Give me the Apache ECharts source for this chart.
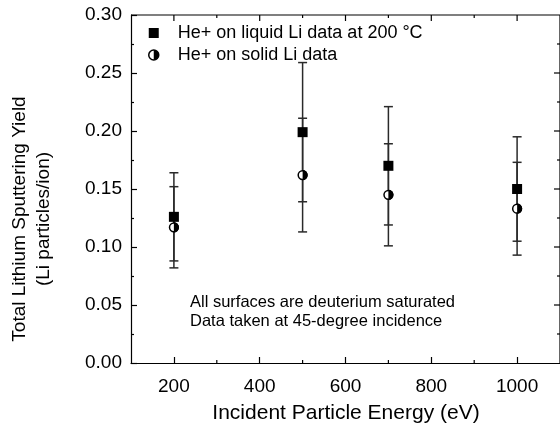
<!DOCTYPE html>
<html><head><meta charset="utf-8">
<script src="https://cdn.jsdelivr.net/npm/echarts@6/dist/echarts.min.js"></script>
<style>html,body{margin:0;padding:0;background:#fff}#c{width:560px;height:428px;background:#fff}</style>
</head><body><div id="c"></div>
<script>
const energies = [200, 500, 700, 1000];
const liquidYield = [0.126, 0.199, 0.170, 0.150];
const liquidErr = [0.038, 0.060, 0.051, 0.045];
const solidYield = [0.117, 0.162, 0.145, 0.133];
const solidErr = [0.035, 0.049, 0.044, 0.040];
const xMajorTicks = [200, 400, 600, 800, 1000];
const xMinorTicks = [300, 500, 700, 900];
const yMajorTicks = [0.05, 0.10, 0.15, 0.20, 0.25];
const yMinorTicks = [0.025, 0.075, 0.125, 0.175, 0.225, 0.275];
const liquidName = 'He+ on liquid Li data at 200 \u00B0C';
const solidName = 'He+ on solid Li data';
const xTitle = 'Incident Particle Energy (eV)';
const yTitle1 = 'Total Lithium Sputtering Yield';
const yTitle2 = '(Li particles/ion)';
const note1 = 'All surfaces are deuterium saturated';
const note2 = 'Data taken at 45-degree incidence';

const FONT = 'Liberation Sans, Arial, sans-serif';
const X_MIN = 100, X_MAX = 1100, Y_MIN = 0, Y_MAX = 0.30;

const liquidPts = energies.map((e, i) => [e, liquidYield[i]]);
const solidPts = energies.map((e, i) => [e, solidYield[i]]);
const liquidBars = energies.map((e, i) => [e, liquidYield[i] - liquidErr[i], liquidYield[i] + liquidErr[i]]);
const solidBars = energies.map((e, i) => [e, solidYield[i] - solidErr[i], solidYield[i] + solidErr[i]]);

function errRender(params, api) {
  const x = api.value(0);
  const top = api.coord([x, api.value(2)]);
  const bot = api.coord([x, api.value(1)]);
  const w = 4.5;
  const st = { stroke: '#2a2a2a', lineWidth: 1.5 };
  return { type: 'group', children: [
    { type: 'line', shape: { x1: top[0], y1: top[1], x2: bot[0], y2: bot[1] }, style: st },
    { type: 'line', shape: { x1: top[0] - w, y1: top[1], x2: top[0] + w, y2: top[1] }, style: st },
    { type: 'line', shape: { x1: bot[0] - w, y1: bot[1], x2: bot[0] + w, y2: bot[1] }, style: st }
  ]};
}
function solidRender(params, api) {
  const p = api.coord([api.value(0), api.value(1)]);
  return { type: 'group', children: [
    { type: 'circle', shape: { cx: p[0], cy: p[1], r: 4.4 }, style: { fill: '#fff', stroke: '#000', lineWidth: 1.5 } },
    { type: 'sector', shape: { cx: p[0], cy: p[1], r0: 0, r: 5.1, startAngle: -Math.PI / 2, endAngle: Math.PI / 2, clockwise: true }, style: { fill: '#000' } }
  ]};
}
// mirrored top / right axes and bottom minor ticks, placed through the chart's own scales
function frameRender(params, api) {
  const st = { stroke: '#000', lineWidth: 1.2 };
  const tl = api.coord([X_MIN, Y_MAX]), tr = api.coord([X_MAX, Y_MAX]), br = api.coord([X_MAX, Y_MIN]);
  const ch = [
    { type: 'line', shape: { x1: tl[0], y1: tl[1], x2: tr[0], y2: tr[1] }, style: st },
    { type: 'line', shape: { x1: tr[0], y1: tr[1], x2: br[0], y2: br[1] }, style: st }
  ];
  xMajorTicks.forEach(v => { const p = api.coord([v, Y_MAX]); ch.push({ type: 'line', shape: { x1: p[0], y1: p[1], x2: p[0], y2: p[1] + 6 }, style: st }); });
  xMinorTicks.forEach(v => {
    const p = api.coord([v, Y_MAX]); ch.push({ type: 'line', shape: { x1: p[0], y1: p[1], x2: p[0], y2: p[1] + 3 }, style: st });
    const q = api.coord([v, Y_MIN]); ch.push({ type: 'line', shape: { x1: q[0], y1: q[1], x2: q[0], y2: q[1] - 3 }, style: st });
  });
  yMajorTicks.forEach(v => { const p = api.coord([X_MAX, v]); ch.push({ type: 'line', shape: { x1: p[0], y1: p[1], x2: p[0] - 6, y2: p[1] }, style: st }); });
  yMinorTicks.forEach(v => { const p = api.coord([X_MAX, v]); ch.push({ type: 'line', shape: { x1: p[0], y1: p[1], x2: p[0] - 3, y2: p[1] }, style: st }); });
  return { type: 'group', children: ch };
}

const lineSt = { color: '#000', width: 1.2 };
const chart = echarts.init(document.getElementById('c'));
chart.setOption({
  animation: false,
  grid: { left: 131, top: 15, width: 431, height: 348 },
  xAxis: {
    type: 'value', position: 'bottom', min: X_MIN, max: X_MAX,
    axisLine: { show: true, lineStyle: lineSt, onZero: false },
    axisTick: { show: true, inside: true, length: 6, lineStyle: lineSt },
    axisLabel: { fontSize: 19, color: '#000', fontFamily: FONT, margin: 14, showMinLabel: false, showMaxLabel: false, formatter: v => String(v) },
    splitLine: { show: false }
  },
  yAxis: {
    type: 'value', position: 'left', min: Y_MIN, max: Y_MAX, interval: 0.05,
    axisLine: { show: true, lineStyle: lineSt, onZero: false },
    axisTick: { show: true, inside: true, length: 6, lineStyle: lineSt },
    minorTick: { show: true, splitNumber: 2, length: 3, lineStyle: lineSt },
    axisLabel: { fontSize: 19, color: '#000', fontFamily: FONT, margin: 9, formatter: v => v.toFixed(2) },
    splitLine: { show: false }, minorSplitLine: { show: false }
  },
  legend: {
    orient: 'vertical', left: 143, top: 19, itemWidth: 10, itemHeight: 10, itemGap: 4,
    data: [
      { name: liquidName, icon: 'rect', itemStyle: { color: '#000', opacity: 1 } },
      { name: solidName, icon: 'circle', itemStyle: { color: '#fff', borderColor: '#000', borderWidth: 1.5 } }
    ],
    textStyle: { fontSize: 18, color: '#000', fontFamily: FONT, padding: [0, 0, 0, 14] }
  },
  series: [
    { type: 'custom', name: 'frame', renderItem: frameRender, data: [[X_MIN, Y_MIN]] },
    { type: 'custom', name: 'liquidErr', renderItem: errRender, data: liquidBars },
    { type: 'custom', name: 'solidErr', renderItem: errRender, data: solidBars },
    { type: 'scatter', name: liquidName, data: liquidPts, symbol: 'rect', symbolSize: 10, itemStyle: { color: '#000', opacity: 1 } },
    { type: 'custom', name: solidName, renderItem: solidRender, data: solidPts, itemStyle: { color: '#fff', borderColor: '#000' } }
  ],
  graphic: [
    { type: 'text', x: 20, y: 219, rotation: Math.PI / 2, style: { text: yTitle1, fontSize: 19, fontFamily: FONT, fill: '#000', align: 'center', verticalAlign: 'middle' } },
    { type: 'text', x: 44, y: 219, rotation: Math.PI / 2, style: { text: yTitle2, fontSize: 19, fontFamily: FONT, fill: '#000', align: 'center', verticalAlign: 'middle' } },
    { type: 'text', x: 346, y: 413, style: { text: xTitle, fontSize: 21, fontFamily: FONT, fill: '#000', align: 'center', verticalAlign: 'middle' } },
    { type: 'text', x: 190, y: 302, style: { text: note1, fontSize: 16.5, fontFamily: FONT, fill: '#000', align: 'left', verticalAlign: 'middle' } },
    { type: 'text', x: 190, y: 321, style: { text: note2, fontSize: 16.5, fontFamily: FONT, fill: '#000', align: 'left', verticalAlign: 'middle' } }
  ]
});
// half-filled legend marker, placed on the legend's circle icon
setTimeout(() => {
  let cx = 148, cy = 53;
  try {
    const lg = chart.getModel().getComponent('legend');
    const view = chart.getViewOfComponentModel(lg);
    const it = view.getContentGroup().children()[1];
    const r = it.childAt(0).getBoundingRect();
    const pos = view.getContentGroup().transformCoordToGlobal(it.x + r.x + r.width / 2, it.y + r.y + r.height / 2);
    cx = pos[0]; cy = pos[1];
  } catch (e) {}
  chart.setOption({ graphic: [
    { type: 'sector', id: 'legendHalf', z: 100, shape: { cx: cx, cy: cy, r0: 0, r: 5, startAngle: -Math.PI / 2, endAngle: Math.PI / 2, clockwise: true }, style: { fill: '#000' } }
  ]});
}, 0);
</script></body></html>
